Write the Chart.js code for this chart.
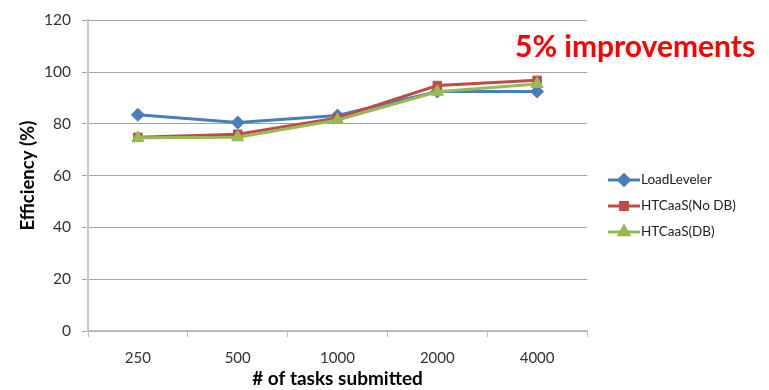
<!DOCTYPE html>
<html>
<head>
<meta charset="utf-8">
<script src="https://cdn.jsdelivr.net/npm/chart.js@4"></script>
<style>
  html, body { margin: 0; padding: 0; background: #ffffff; }
  #wrap { width: 769px; height: 390px; position: relative; }
</style>
</head>
<body>
<div id="wrap"><canvas id="c" width="769" height="390"></canvas></div>
<script>
// Task counts on the x axis
const taskCounts = ['250', '500', '1000', '2000', '4000'];

// Efficiency (%) per scheduler
const loadLeveler = [83.5, 80.5, 83.2, 92.5, 92.5];
const htcaasNoDb  = [74.8, 76.0, 82.3, 94.8, 96.8];
const htcaasDb    = [74.6, 74.8, 81.5, 92.4, 95.4];

const seriesNames = ['LoadLeveler', 'HTCaaS(No DB)', 'HTCaaS(DB)'];
const yTicks = [0, 20, 40, 60, 80, 100, 120];
const note = '5% improvements';

const colors = ['#4A7EBB', '#BE4B48', '#98B954'];
const markers = ['rectRot', 'rect', 'triangle'];
const markerSize = [6.5, 6, 7];

const baseFont = 'Lato, "Liberation Sans", sans-serif';

// Legend drawn as line + marker samples to the right of the plot
const sideLegend = {
  id: 'sideLegend',
  afterDraw(chart) {
    const ctx = chart.ctx;
    ctx.save();
    const x0 = 608, x1 = 640;
    const ys = [180, 206, 232];
    seriesNames.forEach((name, i) => {
      const y = ys[i];
      ctx.strokeStyle = colors[i];
      ctx.lineWidth = 3;
      ctx.beginPath();
      ctx.moveTo(x0, y);
      ctx.lineTo(x1, y);
      ctx.stroke();
      ctx.fillStyle = colors[i];
      Chart.helpers.drawPoint(ctx, {
        pointStyle: markers[i], radius: markerSize[i] * 0.8, rotation: 0, borderWidth: 1
      }, (x0 + x1) / 2, y);
      ctx.fillStyle = '#222';
      ctx.font = '13.5px ' + baseFont;
      ctx.textBaseline = 'middle';
      ctx.textAlign = 'left';
      ctx.fillText(name, x1 + 1, y);
    });
    // Annotation in the top-right corner
    ctx.fillStyle = '#FF0000';
    ctx.font = 'bold 30px ' + baseFont;
    ctx.textAlign = 'left';
    ctx.textBaseline = 'alphabetic';
    ctx.fillText(note, 515, 57);
    ctx.restore();
  }
};

const ds = [loadLeveler, htcaasNoDb, htcaasDb].map((vals, i) => ({
  label: seriesNames[i],
  data: vals,
  borderColor: colors[i],
  backgroundColor: colors[i],
  borderWidth: 3,
  pointStyle: markers[i],
  pointRadius: markerSize[i],
  pointHoverRadius: markerSize[i],
  pointBorderWidth: 1,
  pointBackgroundColor: colors[i],
  pointBorderColor: colors[i],
  tension: 0,
  order: 2 - i
}));

new Chart(document.getElementById('c'), {
  type: 'line',
  data: { labels: taskCounts, datasets: ds },
  plugins: [sideLegend],
  options: {
    responsive: false,
    animation: false,
    layout: { padding: { top: 12, right: 182, left: 17, bottom: 0 } },
    plugins: {
      legend: { display: false },
      tooltip: { enabled: false }
    },
    scales: {
      x: {
        type: 'category',
        offset: true,
        grid: {
          offset: true,
          drawOnChartArea: false,
          drawTicks: true,
          tickLength: 6,
          color: '#BFBFBF'
        },
        border: { color: '#BFBFBF', width: 1.5 },
        ticks: {
          color: '#333333',
          font: { family: baseFont, size: 15 },
          padding: 12
        },
        title: {
          display: true,
          text: '# of tasks submitted',
          color: '#000',
          font: { family: baseFont, size: 19, weight: 'bold' },
          padding: { top: 6, bottom: 0 }
        },
        afterFit(scale) { scale.height = 59; }
      },
      y: {
        min: 0,
        max: 120,
        afterBuildTicks(scale) { scale.ticks = yTicks.map(v => ({ value: v })); },
        grid: {
          color: '#A6A6A6',
          lineWidth: 1,
          drawTicks: true,
          tickLength: 6
        },
        border: { color: '#C8C8C8', width: 2 },
        ticks: {
          color: '#333333',
          font: { family: baseFont, size: 15.5 },
          padding: 11
        },
        title: {
          display: true,
          text: 'Efficiency (%)',
          color: '#000',
          font: { family: baseFont, size: 18.5, weight: 'bold' },
          padding: { top: 0, bottom: 6 }
        },
        afterFit(scale) { scale.width = 71; }
      }
    }
  }
});
</script>
</body>
</html>
